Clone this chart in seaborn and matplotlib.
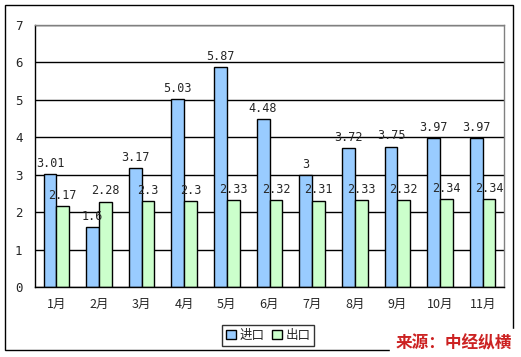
import pandas as pd
import seaborn as sns
import matplotlib.pyplot as plt
from matplotlib.patches import Rectangle

months = ['1月', '2月', '3月', '4月', '5月', '6月', '7月', '8月', '9月', '10月', '11月']
imports = [3.01, 1.6, 3.17, 5.03, 5.87, 4.48, 3, 3.72, 3.75, 3.97, 3.97]
exports = [2.17, 2.28, 2.3, 2.3, 2.33, 2.32, 2.31, 2.33, 2.32, 2.34, 2.34]
series = ['进口', '出口']

df = pd.DataFrame({
    'month': months * 2,
    'value': imports + exports,
    'kind': [series[0]] * len(months) + [series[1]] * len(months),
})

sns.set_style('white')
plt.rcParams['font.family'] = ['Noto Sans CJK SC', 'DejaVu Sans']

fig = plt.figure(figsize=(5.21, 3.57), dpi=100)
ax = fig.add_axes([35 / 521, 1 - 287 / 357, 469 / 521, 262 / 357])

sns.barplot(data=df, x='month', y='value', hue='kind', order=months,
            hue_order=series, palette=['#99CCFF', '#CCFFCC'], width=0.6,
            edgecolor='black', linewidth=1, saturation=1, ax=ax)

for cont in ax.containers:
    labels = [f'{v:g}' for v in cont.datavalues]
    ax.bar_label(cont, labels=labels, padding=3, fontsize=8.5,
                 family='DejaVu Sans Mono')

ax.set_ylim(0, 7)
ax.set_xlim(-0.5, len(months) - 0.5)
ax.set_yticks(range(8))
ax.yaxis.grid(True, color='black', linewidth=1)
ax.set_axisbelow(True)
ax.set_xlabel('')
ax.set_ylabel('')
ax.tick_params(axis='y', length=0, pad=9, labelsize=9)
ax.tick_params(axis='x', length=0, pad=8, labelsize=9)
for lab in ax.get_yticklabels():
    lab.set_family('DejaVu Sans Mono')

# small inward ticks between the month groups
ax.set_xticks([i + 0.5 for i in range(len(months) - 1)], minor=True)
ax.tick_params(axis='x', which='minor', direction='in', length=4, width=1, color='black')

for side in ['left', 'bottom']:
    ax.spines[side].set_color('black')
    ax.spines[side].set_linewidth(1)
for side in ['top', 'right']:
    ax.spines[side].set_color('#808080')
    ax.spines[side].set_linewidth(1)

leg = ax.legend(loc='lower center', bbox_to_anchor=(268 / 521, 5 / 357),
                bbox_transform=fig.transFigure, ncol=2, frameon=True,
                fontsize=9, handlelength=0.8, handleheight=0.8,
                handletextpad=0.3, columnspacing=0.6, borderpad=0.3,
                fancybox=False)
leg.get_frame().set_edgecolor('black')
leg.get_frame().set_linewidth(1)

fig.patches.append(Rectangle((5 / 521, 1 - 350 / 357), 508 / 521, 345 / 357,
                             transform=fig.transFigure, fill=False,
                             edgecolor='black', linewidth=1))

fig.text(512 / 521, 1 - 352 / 357, '来源：中经纵横', color='#CC2222',
         fontsize=12, fontweight='bold', ha='right', va='bottom',
         backgroundcolor='white')

fig.savefig('out.png', dpi=100)
